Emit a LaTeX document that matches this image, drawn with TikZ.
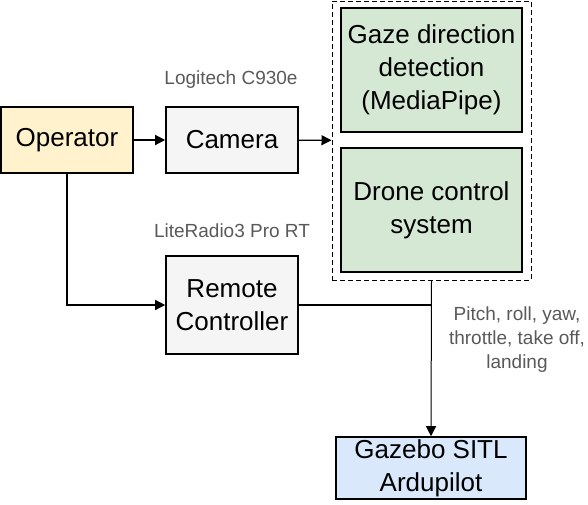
\documentclass[tikz,border=0pt]{standalone}
\usepackage{fontspec}
\setmainfont{Liberation Sans}
\usetikzlibrary{arrows.meta}
\definecolor{opfill}{HTML}{FFF2CC}
\definecolor{greyfill}{HTML}{F5F5F5}
\definecolor{greenfill}{HTML}{D5E8D4}
\definecolor{bluefill}{HTML}{DAE8FC}
\definecolor{labelgrey}{HTML}{595959}
\begin{document}
\begin{tikzpicture}
            [x=1pt, y=-1pt, >={Triangle[length=10pt,width=10pt]}, semithick,
             box/.style={shape=rectangle, draw=black, line width=1.6pt, inner sep=0pt, align=center,
                         font=\fontsize{26}{33}\selectfont},
             note/.style={text=labelgrey, align=center, font=\fontsize{19}{24}\selectfont},
             wire/.style={line width=1.3pt}]
            \useasboundingbox (0, 0) rectangle (588, 504);
            \node[shape=rectangle,draw=black,dash pattern=on 5pt off 3pt,line width=1pt,minimum width=199pt,minimum height=279pt] (sysbox) at (431.5, 140.5) {};
            \node[box,fill=opfill,minimum width=132pt,minimum height=66pt] (operator) at (67, 140) {Operator};
            \node[box,fill=greyfill,minimum width=132pt,minimum height=66pt] (camera) at (232, 140) {Camera};
            \node[box,fill=greenfill,minimum width=181pt,minimum height=124pt] (gaze) at (431.5, 70) {Gaze direction\\detection\\(MediaPipe)};
            \node[box,fill=greenfill,minimum width=181pt,minimum height=124pt] (drone) at (431.5, 210) {Drone control\\system};
            \node[box,fill=greyfill,minimum width=132pt,minimum height=98pt] (remote) at (232, 305) {Remote\\Controller};
            \node[box,fill=bluefill,minimum width=190pt,minimum height=62pt] (gazebo) at (431, 468) {Gazebo SITL\\Ardupilot};

            \node[note] (camlabel) at (231, 80) {Logitech C930e};
            \node[note] (radiolabel) at (232, 231) {LiteRadio3 Pro RT};
            \node[note] (cmdlabel) at (517, 340) {Pitch, roll, yaw,\\throttle, take off,\\landing};

            \draw [->, wire] (operator) -- (camera);
            \draw [->, wire] (camera) -- (sysbox);
            \draw [->, wire] (operator.south) |- (remote.west);
            \draw [wire] (remote.east) -- (remote.east -| sysbox.south);
            \draw [->, line width=1pt] (sysbox.south) -- (gazebo.north);
        \end{tikzpicture}
\end{document}
